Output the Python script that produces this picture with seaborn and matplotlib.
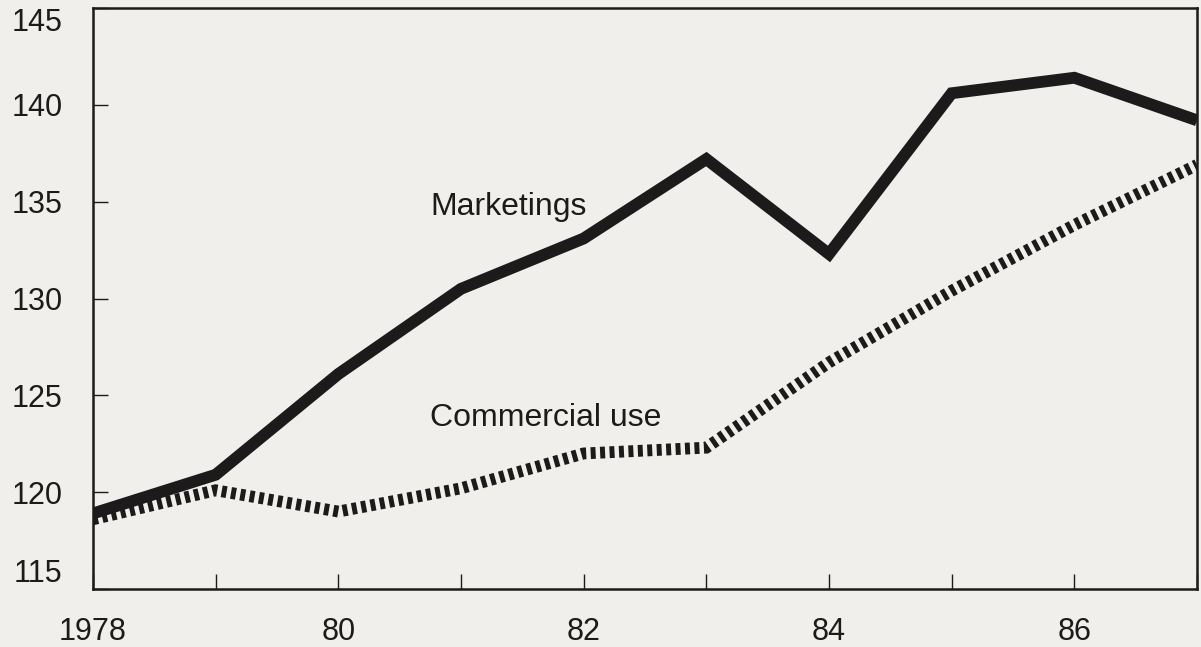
import pandas as pd
import matplotlib
matplotlib.use("Agg")
import matplotlib.pyplot as plt
import seaborn as sns

# --- DATA ---
years = [1978, 1979, 1980, 1981, 1982, 1983, 1984, 1985, 1986, 1987]
marketings = [118.9, 120.9, 126.1, 130.5, 133.1, 137.2, 132.3, 140.6, 141.4, 139.2]
commercial_use = [118.6, 120.1, 119.0, 120.2, 122.0, 122.3, 126.7, 130.4, 133.8, 136.9]
xtick_vals = [1978, 1980, 1982, 1984, 1986]
xtick_labels = ["1978", "80", "82", "84", "86"]
ytick_vals = [115, 120, 125, 130, 135, 140, 145]

BG = "#f1efeb"
INK = "#1c1a1a"

sns.set_theme(style="white")
plt.rcParams['font.family'] = ['Liberation Sans', 'DejaVu Sans']

df = pd.DataFrame({"year": years, "Marketings": marketings, "Commercial use": commercial_use})

fig = plt.figure(figsize=(12.01, 6.47), dpi=100, facecolor=BG)
ax = fig.add_axes([0.0774, 0.0896, 0.9193, 0.898])
ax.set_facecolor(BG)

sns.lineplot(data=df, x="year", y="Marketings", ax=ax, color=INK, linewidth=8.5,
             solid_joinstyle="miter", solid_capstyle="butt")
sns.lineplot(data=df, x="year", y="Commercial use", ax=ax, color=INK, linewidth=8.5,
             linestyle=(0, (0.42, 0.38)), dash_capstyle="butt", dash_joinstyle="miter")

ax.set_xlim(1978, 1987)
ax.set_ylim(115, 145)
ax.set_xticks(years)
ax.set_xticklabels([xtick_labels[xtick_vals.index(y)] if y in xtick_vals else "" for y in years])
ax.set_yticks(ytick_vals)
ax.set_yticklabels([str(v) for v in ytick_vals])
ax.set_xlabel("")
ax.set_ylabel("")

ax.tick_params(axis="x", direction="in", length=11, width=1, color=INK,
               labelsize=22, pad=20, labelcolor=INK, bottom=True)
ax.tick_params(axis="y", direction="in", length=11, width=1, color=INK,
               labelsize=22, pad=22, labelcolor=INK, left=True, right=False)
ylabs = ax.get_yticklabels()
ylabs[0].set_verticalalignment("bottom")
ylabs[-1].set_verticalalignment("top")

for s in ax.spines.values():
    s.set_visible(True)
    s.set_color(INK)
    s.set_linewidth(1.8)

# series labels sit above their lines
ax.text(1980.75, 134.3, "Marketings", fontsize=23, color=INK, va="baseline", ha="left")
ax.text(1980.75, 123.4, "Commercial use", fontsize=23, color=INK, va="baseline", ha="left")

fig.savefig("out.png", dpi=100, facecolor=BG)
